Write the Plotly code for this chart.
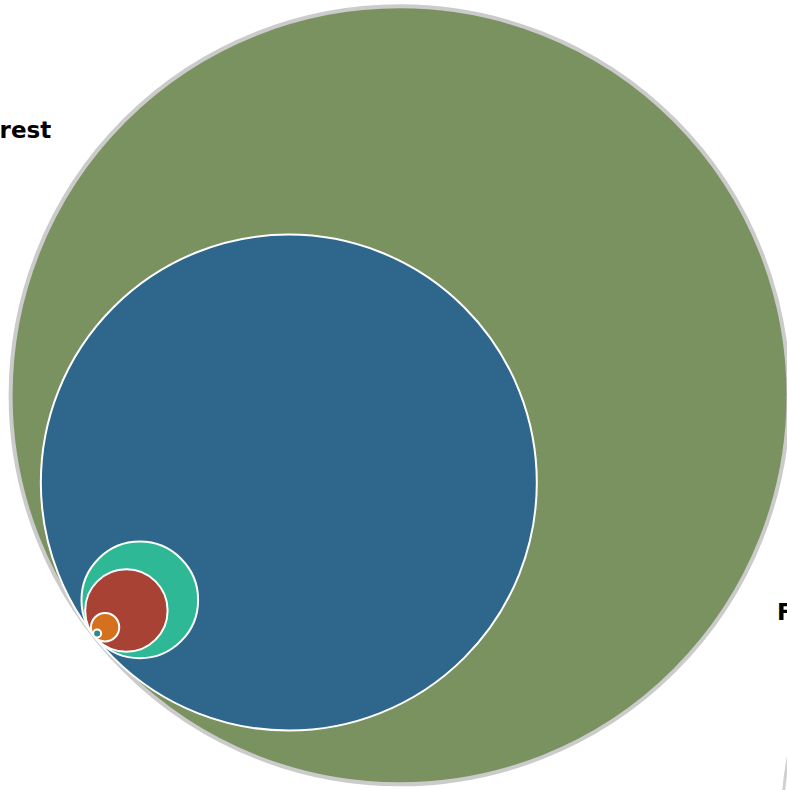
import math
import plotly.graph_objects as go

# ---- data (areas, arbitrary units) ----
names = ["Forest", "Category B", "Category C", "Category D", "Category E", "Category F"]
values = [1513, 615, 34, 17, 2, 0.16]
colors = ["#7a9160", "#2e668c", "#2fb896", "#a84234", "#d4701e", "#2a8a8c"]
labels = ["Forest", "Farmland"]

# ---- layout config ----
W, H = 787, 790
scale = 10.0                       # px per sqrt(unit)
tangent = (94.0, 636.0)            # common tangent point (px, y down)
ang = math.atan2(-241.0, 306.0)    # direction from tangent point toward centres
ux, uy = math.cos(ang), math.sin(ang)

fig = go.Figure()
shapes = []
for i, (v, c) in enumerate(zip(values, colors)):
    r = scale * math.sqrt(v)
    cx = tangent[0] + r * ux
    cy = tangent[1] + r * uy
    shapes.append(dict(
        type="circle", xref="x", yref="y",
        x0=cx - r, x1=cx + r, y0=cy - r, y1=cy + r,
        fillcolor=c,
        line=dict(color="#cbcbcb" if i == 0 else "white", width=4 if i == 0 else 2),
        layer="above",
    ))

# neighbouring circle outline at the bottom-right edge
shapes.append(dict(type="circle", xref="x", yref="y",
                   x0=1182 - 400, x1=1182 + 400, y0=828 - 400, y1=828 + 400,
                   fillcolor="rgba(0,0,0,0)", line=dict(color="#d0d0d0", width=3),
                   layer="above"))

fig.add_trace(go.Scatter(x=[0, W], y=[0, H], mode="markers",
                         marker=dict(opacity=0), hoverinfo="skip", showlegend=False))

font = dict(family="DejaVu Sans, Arial, sans-serif", size=23, color="black")
annotations = [
    dict(x=53, y=130, xref="x", yref="y", text="<b>" + labels[0] + "</b>",
         showarrow=False, xanchor="right", yanchor="middle", font=font),
    dict(x=775, y=612, xref="x", yref="y", text="<b>" + labels[1] + "</b>",
         showarrow=False, xanchor="left", yanchor="middle", font=font),
]

fig.update_layout(
    width=W, height=H,
    margin=dict(l=0, r=0, t=0, b=0),
    paper_bgcolor="white", plot_bgcolor="white",
    shapes=shapes, annotations=annotations,
    xaxis=dict(range=[0, W], visible=False, fixedrange=True),
    yaxis=dict(range=[H, 0], visible=False, fixedrange=True),
    showlegend=False,
)

fig.write_html("out.html", config={"displayModeBar": False},
               post_script="document.body.style.margin='0';")
